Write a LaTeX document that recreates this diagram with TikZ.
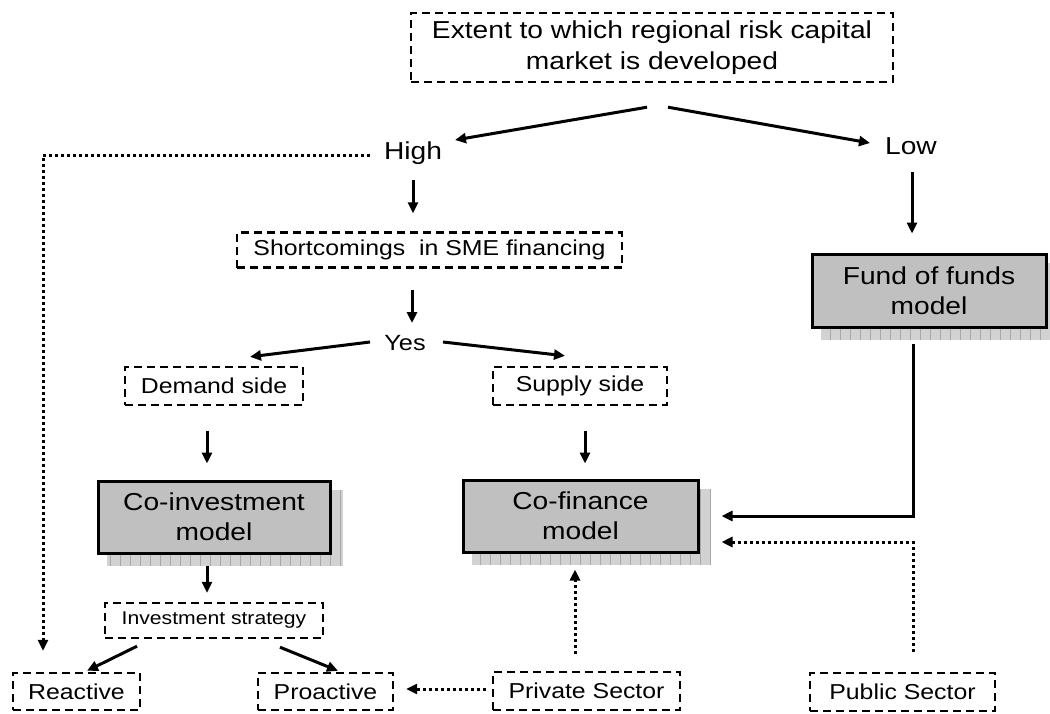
\documentclass[tikz,border=0pt]{standalone}
\usepackage{fontspec}
\setmainfont{Liberation Sans}[FakeStretch=1.15]
\usetikzlibrary{arrows.meta,calc,backgrounds}
\definecolor{boxgray}{HTML}{C0C0C0}
\definecolor{shadegray}{HTML}{D2D2D2}
\definecolor{shadeline}{HTML}{A8A8A8}
\newcommand\gshadow[1]{%
  \fill[shadegray] ($(#1.north west)+(10,10)$) rectangle ($(#1.south east)+(11,11)$);
  \draw[shadeline, line width=0.5pt, step=10] ($(#1.north west)+(10,10)$) grid ($(#1.south east)+(11,11)$);}
\begin{document}
\begin{tikzpicture}[x=1pt,y=-1pt,
  dbox/.style={draw, line width=2.4pt, dash pattern=on 8pt off 5pt, inner sep=0pt, align=center, font=\fontsize{21.6}{26}\selectfont},
  gbox/.style={draw, line width=3pt, fill=boxgray, inner sep=0pt, align=center, font=\fontsize{24.5}{30}\selectfont},
  lbl/.style={inner sep=0pt, font=\fontsize{24.5}{30}\selectfont},
  arr/.style={line width=3pt, -{Triangle[length=11pt,width=10pt]}},
  darr/.style={line width=3pt, dash pattern=on 3pt off 3pt, -{Triangle[length=11pt,width=10pt]}}]
\useasboundingbox (0,0) rectangle (1050,713);

% nodes
\node[dbox, minimum width=482, minimum height=69, font=\fontsize{24.5}{31}\selectfont] (title) at (652,47.5) {Extent to which regional risk capital\\market is developed};
\node[lbl] (high) at (413,153) {High};
\node[lbl] (low) at (911,146) {Low};
\node[dbox, minimum width=385, minimum height=35] (short) at (429.5,250) {Shortcomings~ in SME financing};
\node[lbl, font=\fontsize{22}{26}\selectfont] (yes) at (405,343) {Yes};
\node[dbox, minimum width=178, minimum height=38] (demand) at (214,386) {Demand side};
\node[dbox, minimum width=174, minimum height=38] (supply) at (580,386) {Supply side};
\node[gbox, minimum width=232, minimum height=72] (coinv) at (214,517) {Co-investment\\model};
\node[gbox, minimum width=235, minimum height=72] (cofin) at (580.5,516) {Co-finance\\model};
\node[gbox, minimum width=234, minimum height=73] (fund) at (929,290.5) {Fund of funds\\model};
\node[dbox, minimum width=218, minimum height=35, font=\fontsize{18.4}{22}\selectfont] (invs) at (214,620.5) {Investment strategy};
\node[dbox, minimum width=127, minimum height=37] (reactive) at (76.5,691.5) {Reactive};
\node[dbox, minimum width=135, minimum height=37] (proactive) at (325.5,691.5) {Proactive};
\node[dbox, minimum width=187, minimum height=38] (private) at (586.5,691) {Private Sector};
\node[dbox, minimum width=185, minimum height=38] (public) at (902.5,692) {Public Sector};

% shadows
\begin{scope}[on background layer]
  \gshadow{coinv}
  \gshadow{cofin}
  \gshadow{fund}
\end{scope}

% connectors
\draw[arr] ($(title.south)+(-5,24)$) -- ($(high.center)+(42,-13)$);
\draw[arr] ($(title.south)+(16,24)$) -- ($(low.center)+(-41,-3)$);
\draw[arr] ($(high.center)+(0,27)$) -- ($(high.center |- short.north)+(0,-18)$);
\draw[arr] ($(short.south)+(-17.5,21)$) -- ($(yes.center)+(7,-20)$);
\draw[arr] ($(yes.center)+(-35,-1)$) -- ($(demand.north)+(36,-9)$);
\draw[arr] ($(yes.center)+(38,-1)$) -- ($(supply.north)+(-15,-10)$);
\draw[arr] ($(demand.south)+(-7,25)$) -- ($(coinv.north)+(-7,-16)$);
\draw[arr] ($(supply.south)+(5,25)$) -- ($(cofin.north)+(4.5,-15)$);
\draw[arr] ($(coinv.south)+(-7,11)$) -- ($(invs.north)+(-7,-9)$);
\draw[arr] ($(invs.south)+(-77,7)$) -- ($(reactive.north)+(10.5,-1)$);
\draw[arr] ($(invs.south)+(66,8)$) -- ($(proactive.north)+(12.5,-1)$);
\draw[arr] ($(low.center)+(1,26)$) -- ($(fund.north)+(-17,-19)$);
\draw[arr] ($(fund.south)+(-16,15)$) |- ($(cofin.east)+(22,0)$);
\draw[darr] ($(high.center)+(-43,2)$) -| ($(reactive.north)+(-33.5,-21)$);
\draw[darr] ($(public.north)+(10.5,-20)$) |- ($(cofin.east)+(22,26)$);
\draw[darr] ($(private.north)+(-11.5,-17)$) -- ($(cofin.south)+(-5.5,16)$);
\draw[darr] ($(private.west)+(-6,-2)$) -- ($(proactive.east)+(12,-2.5)$);
\end{tikzpicture}
\end{document}
